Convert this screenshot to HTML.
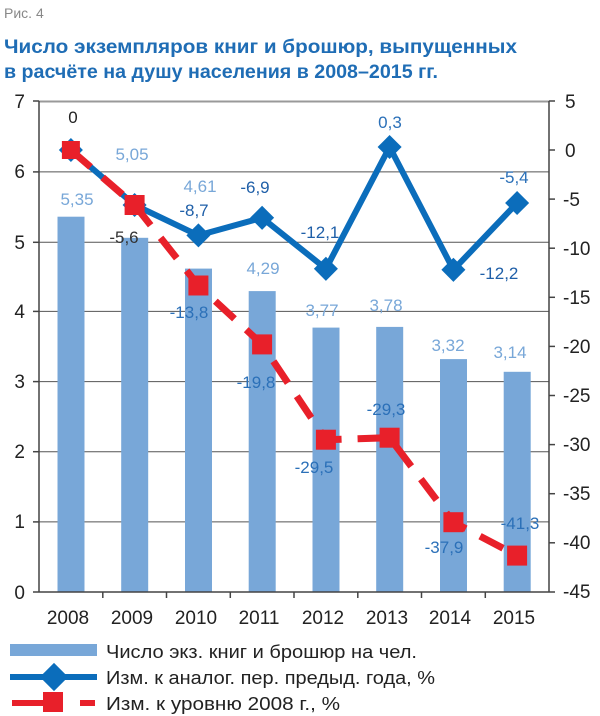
<!DOCTYPE html>
<html><head><meta charset="utf-8"><style>
body{margin:0;background:#fff;}
svg{display:block;font-family:"Liberation Sans","DejaVu Sans",sans-serif;}
</style></head><body>
<svg width="600" height="716" viewBox="0 0 600 716">
<text x="4" y="18" font-size="14" fill="#888">Рис. 4</text>
<text x="4" y="53" font-size="19.5" font-weight="bold" fill="#1f6db5" textLength="513" lengthAdjust="spacingAndGlyphs">Число экземпляров книг и брошюр, выпущенных</text>
<text x="4" y="78" font-size="19.5" font-weight="bold" fill="#1f6db5" textLength="434" lengthAdjust="spacingAndGlyphs">в расчёте на душу населения в 2008–2015 гг.</text>
<g stroke="#555" stroke-width="1">
<line x1="39" y1="101.5" x2="549" y2="101.5" stroke="#999" stroke-width="2"/>
<line x1="39" y1="171.9" x2="549" y2="171.9"/>
<line x1="39" y1="242.3" x2="549" y2="242.3"/>
<line x1="39" y1="311.4" x2="549" y2="311.4"/>
<line x1="39" y1="381.6" x2="549" y2="381.6"/>
<line x1="39" y1="451.7" x2="549" y2="451.7"/>
<line x1="39" y1="521.9" x2="549" y2="521.9"/>
</g>
<g fill="#78a7d8">
<rect x="57.5" y="216.7" width="27" height="375.3"/>
<rect x="121.2" y="237.8" width="27" height="354.2"/>
<rect x="185" y="268.6" width="27" height="323.4"/>
<rect x="248.7" y="291.1" width="27" height="300.9"/>
<rect x="312.5" y="327.6" width="27" height="264.4"/>
<rect x="376.2" y="326.9" width="27" height="265.1"/>
<rect x="440" y="359.1" width="27" height="232.9"/>
<rect x="503.7" y="371.8" width="27" height="220.2"/>
</g>
<g stroke="#444" stroke-width="1.5">
<line x1="39" y1="101" x2="39" y2="592"/>
<line x1="549" y1="101" x2="549" y2="592"/>
<line x1="33" y1="592" x2="555" y2="592"/>
<line x1="33" y1="101" x2="39" y2="101"/>
<line x1="33" y1="171.9" x2="39" y2="171.9"/><line x1="33" y1="242.3" x2="39" y2="242.3"/><line x1="33" y1="311.4" x2="39" y2="311.4"/><line x1="33" y1="381.6" x2="39" y2="381.6"/><line x1="33" y1="451.7" x2="39" y2="451.7"/><line x1="33" y1="521.9" x2="39" y2="521.9"/>
<line x1="549" y1="101" x2="555" y2="101"/><line x1="549" y1="150" x2="555" y2="150"/><line x1="549" y1="199.1" x2="555" y2="199.1"/><line x1="549" y1="248.2" x2="555" y2="248.2"/><line x1="549" y1="297.3" x2="555" y2="297.3"/><line x1="549" y1="346.4" x2="555" y2="346.4"/><line x1="549" y1="395.5" x2="555" y2="395.5"/><line x1="549" y1="444.6" x2="555" y2="444.6"/><line x1="549" y1="493.7" x2="555" y2="493.7"/><line x1="549" y1="542.8" x2="555" y2="542.8"/>
<line x1="102.8" y1="592" x2="102.8" y2="598"/><line x1="166.5" y1="592" x2="166.5" y2="598"/><line x1="230.3" y1="592" x2="230.3" y2="598"/><line x1="294" y1="592" x2="294" y2="598"/><line x1="357.8" y1="592" x2="357.8" y2="598"/><line x1="421.5" y1="592" x2="421.5" y2="598"/><line x1="485.3" y1="592" x2="485.3" y2="598"/>
</g>
<g font-size="19" fill="#222" text-anchor="end">
<text x="25" y="108">7</text><text x="25" y="178">6</text><text x="25" y="249">5</text><text x="25" y="318">4</text><text x="25" y="388">3</text><text x="25" y="458">2</text><text x="25" y="528">1</text><text x="25" y="599">0</text>
</g>
<g font-size="19" fill="#222">
<text x="565" y="108">5</text><text x="565" y="157">0</text><text x="563" y="206">-5</text><text x="563" y="255">-10</text><text x="563" y="304">-15</text><text x="563" y="353">-20</text><text x="563" y="402">-25</text><text x="563" y="451">-30</text><text x="563" y="500">-35</text><text x="563" y="549">-40</text><text x="563" y="598">-45</text>
</g>
<g font-size="19" fill="#222" text-anchor="middle">
<text x="68" y="624">2008</text><text x="132" y="624">2009</text><text x="196" y="624">2010</text><text x="259" y="624">2011</text><text x="323" y="624">2012</text><text x="387" y="624">2013</text><text x="450" y="624">2014</text><text x="514" y="624">2015</text>
</g>
<polyline points="70.9,150 134.6,205 198.4,235.4 262.1,217.8 325.9,268.8 389.6,147 453.4,269.8 517.1,203" fill="none" stroke="#0b6dbb" stroke-width="6" stroke-linejoin="round"/>
<g fill="#0b6dbb">
<rect x="-8.5" y="-8.5" width="17" height="17" transform="translate(70.9,150) rotate(45)"/>
<rect x="-8.5" y="-8.5" width="17" height="17" transform="translate(134.6,205) rotate(45)"/>
<rect x="-8.5" y="-8.5" width="17" height="17" transform="translate(198.4,235.4) rotate(45)"/>
<rect x="-8.5" y="-8.5" width="17" height="17" transform="translate(262.1,217.8) rotate(45)"/>
<rect x="-8.5" y="-8.5" width="17" height="17" transform="translate(325.9,268.8) rotate(45)"/>
<rect x="-8.5" y="-8.5" width="17" height="17" transform="translate(389.6,147) rotate(45)"/>
<rect x="-8.5" y="-8.5" width="17" height="17" transform="translate(453.4,269.8) rotate(45)"/>
<rect x="-8.5" y="-8.5" width="17" height="17" transform="translate(517.1,203) rotate(45)"/>
</g>
<polyline points="70.9,150 134.6,205 198.4,285.5 262.1,344.4 325.9,439.7 389.6,437.7 453.4,522.2 517.1,555.6" fill="none" stroke="#e8202a" stroke-width="7" stroke-dasharray="26,16"/>
<g fill="#e8202a">
<rect x="61.9" y="141" width="18" height="18"/>
<rect x="124.6" y="195" width="20" height="20"/>
<rect x="188.4" y="275.5" width="20" height="20"/>
<rect x="252.1" y="334.4" width="20" height="20"/>
<rect x="315.9" y="429.7" width="20" height="20"/>
<rect x="379.6" y="427.7" width="20" height="20"/>
<rect x="443.4" y="512.2" width="20" height="20"/>
<rect x="507.1" y="545.6" width="20" height="20"/>
</g>
<g font-size="17" fill="#78a7d8" text-anchor="middle">
<text x="77" y="205">5,35</text><text x="132" y="160">5,05</text><text x="200" y="192">4,61</text><text x="263" y="274">4,29</text><text x="322" y="316">3,77</text><text x="386" y="311">3,78</text><text x="448" y="351">3,32</text><text x="510" y="358">3,14</text>
</g>
<g font-size="17" text-anchor="middle">
<text x="73" y="123" fill="#222">0</text>
<text x="124" y="243" fill="#333">-5,6</text>
<text x="194" y="216" fill="#1f5fa8">-8,7</text>
<text x="255" y="193" fill="#1f5fa8">-6,9</text>
<text x="320" y="238" fill="#1f5fa8">-12,1</text>
<text x="390" y="128" fill="#2b70b8">0,3</text>
<text x="499" y="279" fill="#1f5fa8">-12,2</text>
<text x="514" y="183" fill="#2b70b8">-5,4</text>
</g>
<g font-size="17" fill="#2b70b8" text-anchor="middle">
<text x="189" y="318">-13,8</text><text x="256" y="388">-19,8</text><text x="314" y="473">-29,5</text><text x="386" y="415">-29,3</text><text x="444" y="553">-37,9</text><text x="520" y="529">-41,3</text>
</g>
<rect x="10" y="644" width="87" height="12" fill="#78a7d8"/>
<text x="106" y="658" font-size="18" fill="#222" textLength="311" lengthAdjust="spacingAndGlyphs">Число экз. книг и брошюр на чел.</text>
<line x1="10" y1="677" x2="97" y2="677" stroke="#0b6dbb" stroke-width="6"/>
<rect x="-10" y="-10" width="20" height="20" fill="#0b6dbb" transform="translate(54,677) rotate(45)"/>
<text x="106" y="684" font-size="18" fill="#222" textLength="329" lengthAdjust="spacingAndGlyphs">Изм. к аналог. пер. предыд. года, %</text>
<line x1="12" y1="703" x2="60" y2="703" stroke="#e8202a" stroke-width="6"/>
<line x1="80" y1="703" x2="95" y2="703" stroke="#e8202a" stroke-width="6"/>
<rect x="43" y="692" width="20" height="20" fill="#e8202a"/>
<text x="106" y="710" font-size="18" fill="#222" textLength="234" lengthAdjust="spacingAndGlyphs">Изм. к уровню 2008 г., %</text>
</svg>
</body></html>
